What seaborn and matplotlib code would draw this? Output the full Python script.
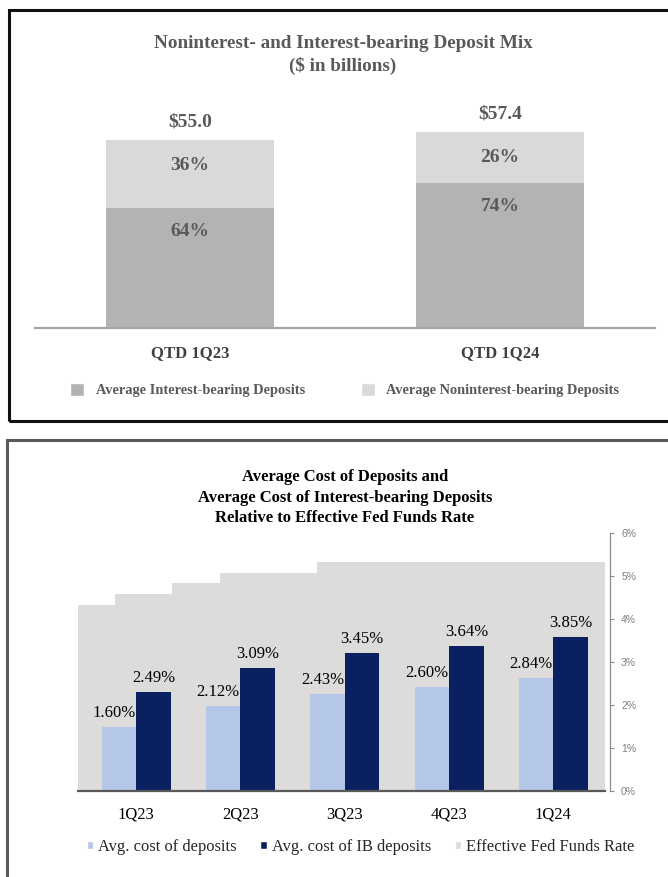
import numpy as np
import pandas as pd
import matplotlib
matplotlib.use("Agg")
import matplotlib.pyplot as plt
from matplotlib.patches import Rectangle, Patch
import seaborn as sns

# ---------------- data ----------------
top_periods = ["QTD 1Q23", "QTD 1Q24"]
top_total = [55.0, 57.4]
top_ib_pct = [64, 74]
top_nib_pct = [36, 26]

quarters = ["1Q23", "2Q23", "3Q23", "4Q23", "1Q24"]
avg_cost_deposits = [1.60, 2.12, 2.43, 2.60, 2.84]
avg_cost_ib = [2.49, 3.09, 3.45, 3.64, 3.85]

fed_dates = ["2023-01-01", "2023-02-02", "2023-03-23", "2023-05-04", "2023-07-27"]
fed_rates = [4.33, 4.58, 4.83, 5.07, 5.33]
fed_end = "2024-04-01"
right_ticks = [0, 1, 2, 3, 4, 5, 6]

# ---------------- style ----------------
sns.set_theme(style="white")
plt.rcParams["font.family"] = ["Liberation Serif", "DejaVu Serif"]

W, H = 668, 877
fig = plt.figure(figsize=(W / 100, H / 100), dpi=100)
PT = 0.72  # points per pixel at 100 dpi


def ax_px(l, t, r, b):
    return fig.add_axes([l / W, 1 - b / H, (r - l) / W, (b - t) / H])


TOP_DARK = "#b3b3b3"
TOP_LIGHT = "#d9d9d9"
TXT_GRAY = "#595959"
LBLUE = "#b4c7e7"
NAVY = "#0a2060"
FED_GRAY = "#dddcda"

# ---------------- panel borders ----------------
fig.add_artist(Rectangle((8.5 / W, 1 - 421 / H), (720 - 8.5) / W, (421 - 10.5) / H,
                         transform=fig.transFigure, fill=False, ec="#111111", lw=2.2))
fig.add_artist(Rectangle((7 / W, 1 - 940 / H), (720 - 7) / W, (940 - 439.5) / H,
                         transform=fig.transFigure, fill=False, ec="#5a5a5a", lw=2.2))

# ---------------- top panel ----------------
df_top = pd.DataFrame({
    "period": top_periods,
    "total": top_total,
    "ib": [t * p / 100 for t, p in zip(top_total, top_ib_pct)],
})
ax1 = ax_px(35, 89, 655, 328)
sns.barplot(data=df_top, x="period", y="total", color=TOP_LIGHT, width=0.542,
            saturation=1, errorbar=None, linewidth=0, edgecolor="none", ax=ax1)
sns.barplot(data=df_top, x="period", y="ib", color=TOP_DARK, width=0.542,
            saturation=1, errorbar=None, linewidth=0, edgecolor="none", ax=ax1)
ax1.set_xlim(-0.5, 1.5)
ax1.set_ylim(0, 70)
ax1.set_xlabel("")
ax1.set_ylabel("")
ax1.set_yticks([])
for s in ["top", "left", "right"]:
    ax1.spines[s].set_visible(False)
ax1.spines["bottom"].set_color("#a6a6a6")
ax1.spines["bottom"].set_linewidth(1.6)
ax1.tick_params(axis="x", length=0, pad=12, labelsize=12, labelcolor="#404040")
for lbl in ax1.get_xticklabels():
    lbl.set_fontweight("bold")

lab_kw = dict(textcoords="offset points", ha="center", va="center",
              fontsize=14, fontweight="bold", color=TXT_GRAY)
for i in range(len(top_periods)):
    tot = df_top["total"][i]
    ib = df_top["ib"][i]
    ax1.annotate(f"${tot:.1f}", xy=(i, tot), xytext=(0, 18 * PT), **lab_kw)
    ax1.annotate(f"{top_nib_pct[i]}%", xy=(i, tot), xytext=(0, -25 * PT), **lab_kw)
    ax1.annotate(f"{top_ib_pct[i]}%", xy=(i, ib), xytext=(0, -24 * PT), **lab_kw)

fig.text(343 / W, 1 - 43 / H, "Noninterest- and Interest-bearing Deposit Mix",
         ha="center", va="center", fontsize=13.8, fontweight="bold", color=TXT_GRAY)
fig.text(343 / W, 1 - 66 / H, "($ in billions)",
         ha="center", va="center", fontsize=13.8, fontweight="bold", color=TXT_GRAY)

fig.legend([Patch(facecolor=TOP_DARK), Patch(facecolor=TOP_LIGHT)],
           ["Average Interest-bearing Deposits", "Average Noninterest-bearing Deposits"],
           loc="center left", bbox_to_anchor=(70 / W, 1 - 390 / H), ncol=2,
           frameon=False, prop={"weight": "bold", "size": 10.35}, labelcolor=TXT_GRAY,
           handlelength=1.0, handleheight=1.0, handletextpad=0.78,
           columnspacing=3.9, borderpad=0, borderaxespad=0)

# ---------------- bottom panel ----------------
s1, s2 = "Avg. cost of deposits", "Avg. cost of IB deposits"
df_bot = pd.DataFrame({
    "quarter": quarters * 2,
    "series": [s1] * len(quarters) + [s2] * len(quarters),
    "value": avg_cost_deposits + avg_cost_ib,
})
ax2 = ax_px(78, 533, 605, 791)
sns.barplot(data=df_bot, x="quarter", y="value", hue="series", hue_order=[s1, s2],
            palette=[LBLUE, NAVY], width=0.662, gap=0, saturation=1,
            errorbar=None, legend=False, linewidth=0, edgecolor="none", ax=ax2)
ax2.set_xlim(-0.558, 4.495)
ax2.set_ylim(0, 6.47)
ax2.set_xlabel("")
ax2.set_ylabel("")
ax2.set_yticks([])
for s in ["top", "left", "right"]:
    ax2.spines[s].set_visible(False)
ax2.spines["bottom"].set_color("#595959")
ax2.spines["bottom"].set_linewidth(1.6)
ax2.tick_params(axis="x", length=0, pad=11, labelsize=12, labelcolor="black")

for cont, dx in zip(ax2.containers, [-5, 0]):
    for bar in cont:
        h = bar.get_height()
        ax2.annotate(f"{h:.2f}%", xy=(bar.get_x() + bar.get_width() / 2, h),
                     xytext=(dx * PT, 14 * PT), textcoords="offset points",
                     ha="center", va="center", fontsize=12, color="black")

ax3 = ax2.twinx()
x0, x1 = ax2.get_xlim()
t0 = pd.Timestamp(fed_dates[0])
t1 = pd.Timestamp(fed_end)
xs = [x0 + (pd.Timestamp(d) - t0) / (t1 - t0) * (x1 - x0) for d in fed_dates] + [x1]
ys = fed_rates + [fed_rates[-1]]
ax3.fill_between(xs, ys, step="post", color=FED_GRAY, lw=0)
ax3.set_xlim(x0, x1)
ax3.set_ylim(0, 6)
ax3.set_yticks(right_ticks)
ax3.set_yticklabels([f"{t}%" for t in right_ticks])
for s in ["top", "left", "bottom"]:
    ax3.spines[s].set_visible(False)
ax3.spines["right"].set_position(("outward", 5 * PT))
ax3.spines["right"].set_color("#8c8c8c")
ax3.spines["right"].set_linewidth(0.9)
ax3.tick_params(axis="y", direction="out", length=3, width=0.8, color="#8c8c8c",
                labelsize=7.5, labelcolor="#7f7f7f", pad=5)
for lbl in ax3.get_yticklabels():
    lbl.set_fontfamily("Liberation Sans")

ax2.set_zorder(2)
ax3.set_zorder(1)
ax2.patch.set_visible(False)
ax3.patch.set_visible(False)

for yy, line in zip([477, 497.5, 518], ["Average Cost of Deposits and",
                                        "Average Cost of Interest-bearing Deposits",
                                        "Relative to Effective Fed Funds Rate"]):
    fig.text(345 / W, 1 - yy / H, line, ha="center", va="center",
             fontsize=12, fontweight="bold", color="black")

fig.legend([Patch(facecolor=LBLUE), Patch(facecolor=NAVY), Patch(facecolor=FED_GRAY)],
           [s1, s2, "Effective Fed Funds Rate"],
           loc="center left", bbox_to_anchor=(86.7 / W, 1 - 847 / H), ncol=3,
           frameon=False, fontsize=11.9, handlelength=0.38, handleheight=0.42,
           handletextpad=0.32, columnspacing=1.42, borderpad=0, borderaxespad=0)

fig.savefig("out.png", dpi=100)
